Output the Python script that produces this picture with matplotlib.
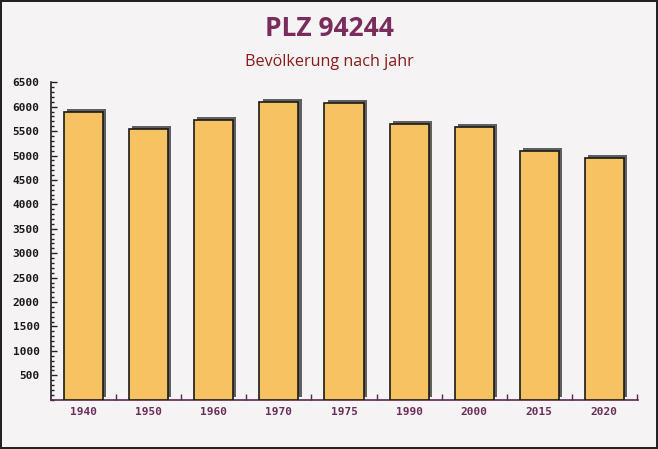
import matplotlib.pyplot as plt
import matplotlib.patheffects as pe
from matplotlib.ticker import MultipleLocator
import numpy as np

## DATA
years = ["1940", "1950", "1960", "1970", "1975", "1990", "2000", "2015", "2020"]
population = [5900, 5535, 5725, 6095, 6070, 5645, 5585, 5090, 4945]
title = "PLZ 94244"
subtitle = "Bevölkerung nach jahr"

fig = plt.figure(figsize=(6.58, 4.49), dpi=100, facecolor="#f5f3f3",
                 edgecolor="#222222", linewidth=1.5)
ax = fig.add_axes([0.077, 0.1098, 0.8926, 0.7069])
ax.set_facecolor("none")

x = np.arange(len(years))
shadow = [pe.SimplePatchShadow(offset=(2.2, 2.2), shadow_rgbFace="#505050", alpha=0.9),
          pe.Normal()]
bars = ax.bar(x, population, width=0.6, color="#f7c262", edgecolor="#1a1a1a",
              linewidth=1.2, zorder=3)
for b in bars:
    b.set_path_effects(shadow)

ax.set_xlim(-0.51, 8.52)
ax.set_ylim(0, 6500)

# y axis: majors every 500, minors every 100
ax.yaxis.set_minor_locator(MultipleLocator(100))
ax.set_yticks(np.arange(500, 6501, 500))
ax.tick_params(axis="y", which="major", direction="in", length=4, width=1,
               color="#222222", pad=8, labelsize=8, labelcolor="#1a1a1a")
ax.tick_params(axis="y", which="minor", direction="in", length=2.5, width=1,
               color="#222222")

# x axis: labels at bars, small ticks between bars
ax.set_xticks(x)
ax.set_xticklabels(years)
ax.set_xticks(np.arange(0.5, 8.6, 1), minor=True)
ax.tick_params(axis="x", which="major", length=0, pad=5, labelsize=8,
               labelcolor="#6b2d5a")
ax.tick_params(axis="x", which="minor", direction="in", length=4, width=1,
               color="#5a2a4a")

for lab in ax.get_xticklabels() + ax.get_yticklabels():
    lab.set_family("DejaVu Sans Mono")
    lab.set_fontweight("bold")

for s in ["top", "right"]:
    ax.spines[s].set_visible(False)
ax.spines["left"].set_color("#222222")
ax.spines["bottom"].set_color("#5a2a4a")
ax.spines["left"].set_linewidth(1.2)
ax.spines["bottom"].set_linewidth(1.2)

fig.text(0.5, 0.937, title, ha="center", va="center", fontsize=19,
         fontweight="bold", family="Open Sans", color="#7a2c5c")
fig.text(0.5, 0.862, subtitle, ha="center", va="center", fontsize=11.6,
         family="Open Sans", color="#8b1a1a")

fig.savefig("out.png", dpi=100, facecolor=fig.get_facecolor(),
            edgecolor=fig.get_edgecolor())
